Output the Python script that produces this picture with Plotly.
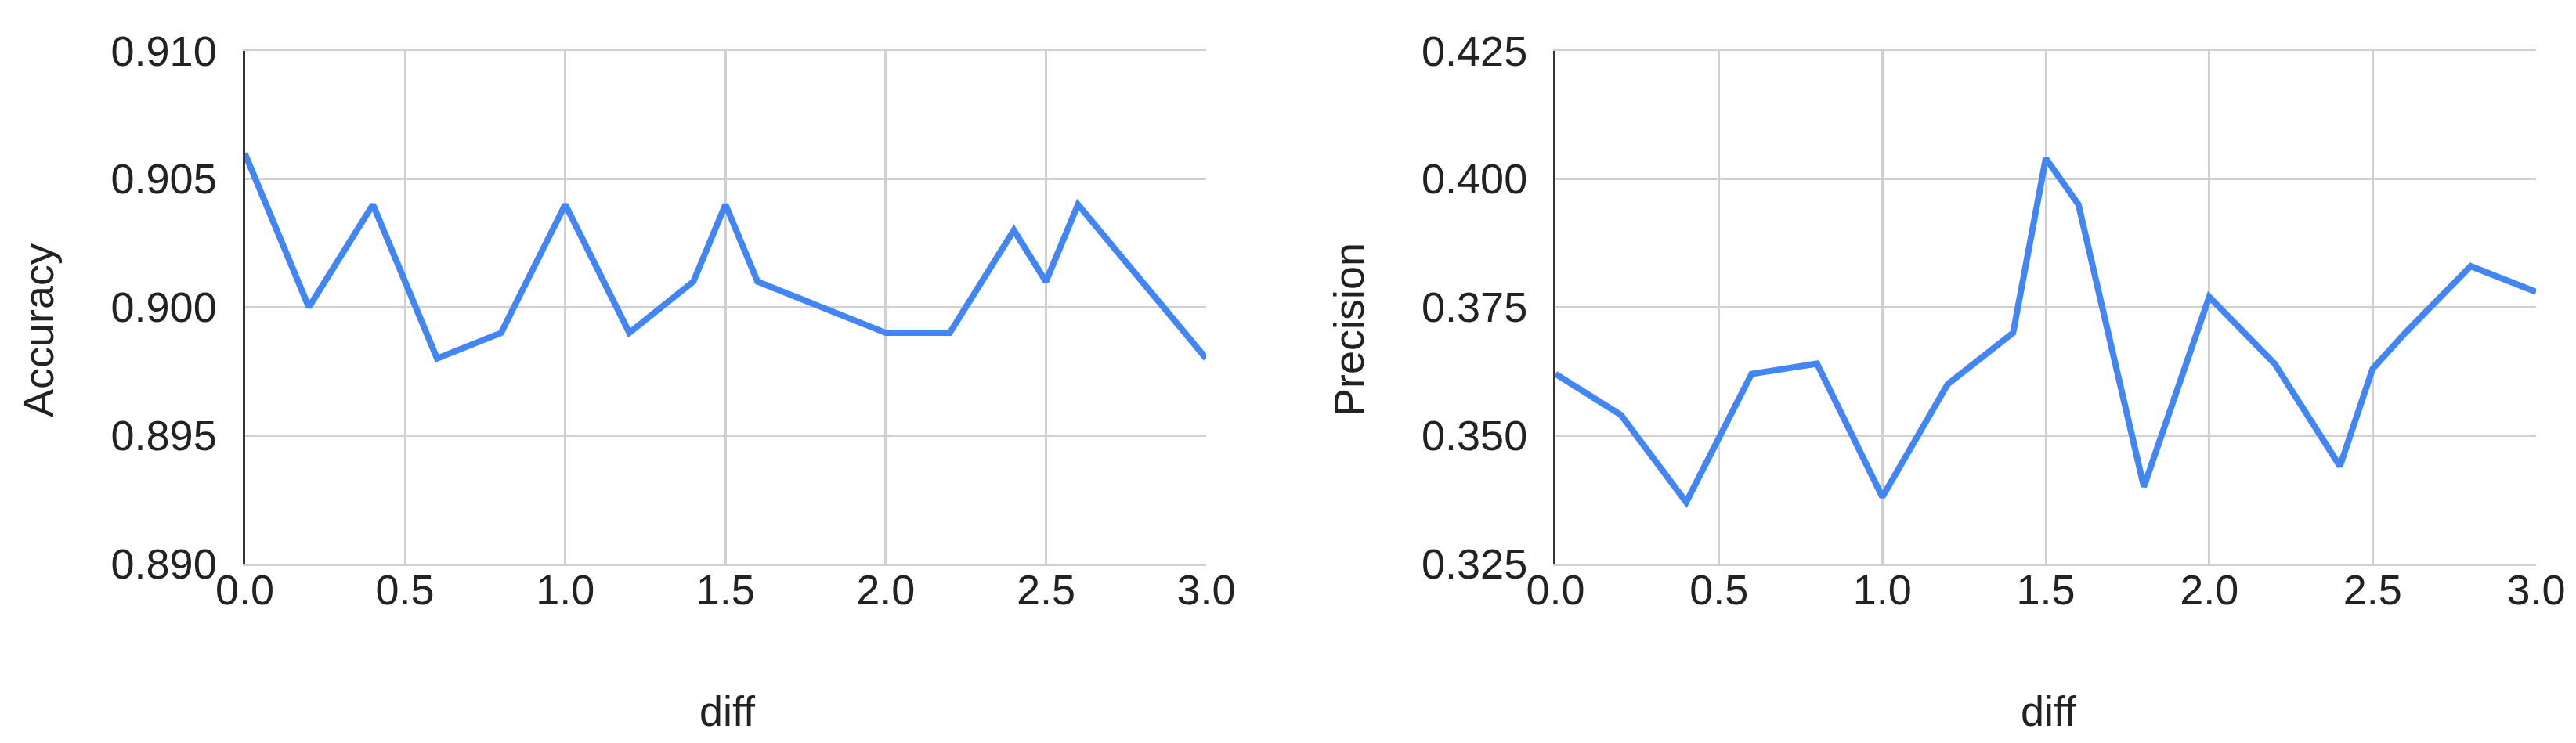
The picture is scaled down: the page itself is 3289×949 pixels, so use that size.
#!/usr/bin/env python3
# -*- coding: utf-8 -*-
import plotly.graph_objects as go

# data
diff = [0.0, 0.2, 0.4, 0.6, 0.8, 1.0, 1.2, 1.4, 1.5, 1.6,
        1.8, 2.0, 2.2, 2.4, 2.5, 2.6, 2.8, 3.0]
accuracy = [0.906, 0.900, 0.904, 0.898, 0.899, 0.904, 0.899, 0.901, 0.904, 0.901,
            0.900, 0.899, 0.899, 0.903, 0.901, 0.904, 0.901, 0.898]
precision = [0.362, 0.354, 0.337, 0.362, 0.364, 0.338, 0.360, 0.370, 0.404, 0.395,
             0.340, 0.377, 0.364, 0.344, 0.363, 0.370, 0.383, 0.378]

x_ticks = [0.0, 0.5, 1.0, 1.5, 2.0, 2.5, 3.0]
acc_ticks = [0.890, 0.895, 0.900, 0.905, 0.910]
prec_ticks = [0.325, 0.350, 0.375, 0.400, 0.425]

W, H = 3289, 949
FONT = 'Arial, Liberation Sans, sans-serif'
FSIZE = 54
TEXT = '#222222'
GRID = '#d0d0d0'
BLUE = '#4285f4'


def _px(x, y):
    '''pixel position -> paper coords'''
    return x / W, 1 - y / H


def _xaxis(domain):
    return dict(
        domain=domain, range=[0, 3], tickvals=x_ticks, tickformat='.1f',
        showgrid=True, gridcolor=GRID, gridwidth=3,
        showline=True, linecolor=GRID, linewidth=3, mirror=True,
        zeroline=False, ticks='', ticklabelstandoff=-16, automargin=False,
        tickfont=dict(family=FONT, size=FSIZE, color=TEXT),
    )


def _yaxis(rng, ticks, anchor):
    return dict(
        domain=[1 - 712 / H, 1 - 56.7 / H], range=rng, tickvals=ticks, tickformat='.3f',
        showgrid=True, gridcolor=GRID, gridwidth=3,
        showline=True, linecolor='#333333', linewidth=3, mirror=False,
        zeroline=False, ticks='', ticklabelstandoff=22, automargin=False,
        anchor=anchor, tickfont=dict(family=FONT, size=FSIZE, color=TEXT),
    )


fig = go.Figure()
fig.add_trace(go.Scatter(x=diff, y=accuracy, mode='lines', xaxis='x', yaxis='y',
                         line=dict(color=BLUE, width=8), showlegend=False))
fig.add_trace(go.Scatter(x=diff, y=precision, mode='lines', xaxis='x2', yaxis='y2',
                         line=dict(color=BLUE, width=8), showlegend=False))

annotations = []
for text, (x, y), angle in [
    ('Accuracy', (41, 414), -90),
    ('Precision', (1714, 413), -90),
    ('diff', (921, 900), 0),
    ('diff', (2608, 900), 0),
]:
    px, py = _px(x, y)
    annotations.append(dict(
        text=text, x=px, y=py, xref='paper', yref='paper', showarrow=False,
        textangle=angle, xanchor='center', yanchor='middle',
        font=dict(family=FONT, size=FSIZE, color=TEXT),
    ))

fig.update_layout(
    width=W, height=H,
    margin=dict(l=0, r=0, t=0, b=0),
    paper_bgcolor='white', plot_bgcolor='white',
    xaxis=_xaxis([304.5 / W, 1532 / W]),
    yaxis=_yaxis([0.890, 0.910], acc_ticks, 'x'),
    xaxis2=dict(_xaxis([1978 / W, 3230 / W]), anchor='y2'),
    yaxis2=_yaxis([0.325, 0.425], prec_ticks, 'x2'),
    annotations=annotations,
)
fig.write_html('out.html')
